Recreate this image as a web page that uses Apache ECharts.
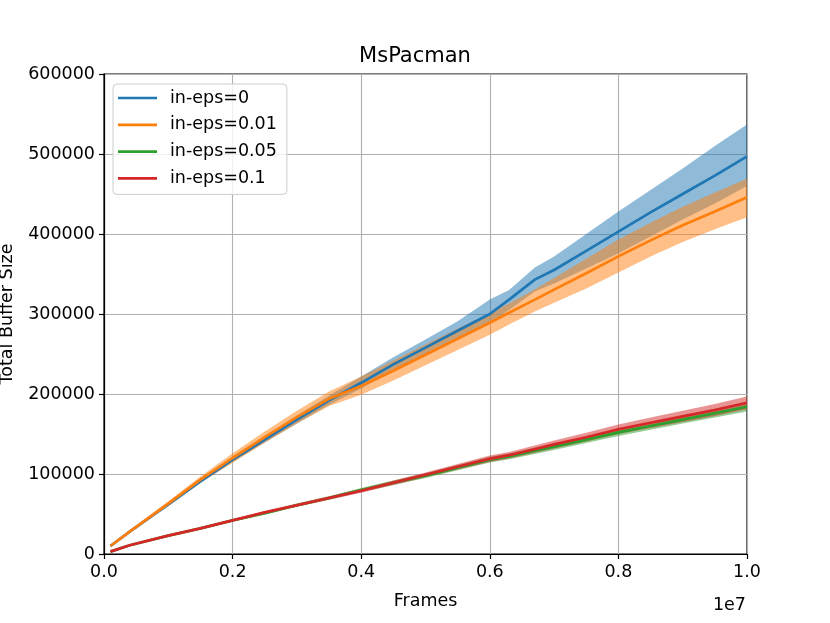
<!DOCTYPE html>
<html><head><meta charset="utf-8">
<script src="https://cdn.jsdelivr.net/npm/echarts@6/dist/echarts.min.js"></script>
<style>html,body{margin:0;padding:0;background:#fff}#c{width:830px;height:623px}</style>
</head><body><div id="c"></div>
<script>
var frames = [1e5,4e5,1e6,1.5e6,2e6,2.5e6,3e6,3.5e6,4e6,4.5e6,5e6,5.5e6,6e6,6.3e6,6.7e6,7e6,7.5e6,8e6,8.5e6,9e6,9.5e6,1e7];
var names = ['in-eps=0','in-eps=0.01','in-eps=0.05','in-eps=0.1'];
var colors = ['#1f77b4','#ff7f0e','#2ca02c','#d62728'];
var eps0Mean = [10000,28000,62000,91000,118000,143000,168000,192000,214000,237000,258000,279000,300000,318000,343000,355000,379000,403000,427000,450000,473000,497000];
var eps0Hi = [11000,29500,64000,93500,121000,147000,173000,198000,222000,246000,268000,291000,318000,330000,358000,372000,400000,428000,455000,482000,510000,537000];
var eps0Lo = [9000,26500,60000,88500,115000,139500,163000,186500,207000,229000,250000,270000,288000,305000,328000,338000,357000,376000,397000,418000,438000,460000];
var eps001Mean = [10000,28000,63000,93000,120000,146000,171000,194000,210000,229000,249000,269000,289000,301500,318000,330500,351000,372000,392000,411000,428000,446000];
var eps001Hi = [11000,30000,66000,97000,126000,153000,179000,203000,222000,242000,262000,282000,301000,313000,331000,345000,369000,393000,414000,434000,452000,469000];
var eps001Lo = [9000,26000,60000,89000,114000,139000,163000,185000,199000,217000,236000,255000,274000,287000,303000,314000,332000,352000,372000,390000,406000,421000];
var eps005Mean = [3000,11000,23000,32000,42000,51000,61000,70000,80000,89000,98000,108000,118000,122000,129000,134000,143000,152000,160000,168000,176000,184000];
var eps005Hi = [3500,11800,24000,33200,43500,52800,63000,72300,82500,91800,101000,111300,121500,125500,133000,138000,147300,156500,164800,173000,181500,190000];
var eps005Lo = [2500,10200,22000,30800,40500,49200,59000,67700,77500,86200,95000,104700,114500,118500,125000,130000,138700,147500,155200,163000,170500,178000];
var eps01Mean = [3000,11000,23000,32000,42000,52000,61000,70000,79000,89000,99000,109000,119000,123500,131000,137000,146000,156000,164000,172000,180000,189000];
var eps01Hi = [3500,11800,24000,33200,43500,53800,63000,72300,81500,91800,102000,112500,123000,127500,135500,142000,151500,162000,170500,179000,187500,197000];
var eps01Lo = [2500,10200,22000,30800,40500,50200,59000,67700,76500,86200,96000,105500,115000,119500,126500,132000,140500,150000,157500,165000,172500,181000];
var yTicks = [0,100000,200000,300000,400000,500000,600000];

var means = [eps0Mean, eps001Mean, eps005Mean, eps01Mean];
var his = [eps0Hi, eps001Hi, eps005Hi, eps01Hi];
var los = [eps0Lo, eps001Lo, eps005Lo, eps01Lo];
var FONT = 'DejaVu Sans';
var series = [];
function zip(xs, ys){ return xs.map(function(x,i){return [x, ys[i]];}); }
function bandSeries(k){
  var hi = his[k], lo = los[k];
  return {type:'custom', name:'band'+k, silent:true, z:2,
    data:[[frames[0], lo[0]]],
    clip:true,
    renderItem:function(params, api){
      var pts = [];
      for (var i=0;i<frames.length;i++) pts.push(api.coord([frames[i], hi[i]]));
      for (var j=frames.length-1;j>=0;j--) pts.push(api.coord([frames[j], lo[j]]));
      return {type:'polygon', shape:{points:pts}, style:{fill:colors[k], opacity:0.5}};
    }};
}
for (var k=0;k<4;k++){
  series.push(bandSeries(k));
  series.push({type:'line', name:names[k], data:zip(frames, means[k]), showSymbol:false, symbol:'none',
    lineStyle:{color:colors[k], width:2.7}, itemStyle:{color:colors[k]}, z:3});
}
var chart = echarts.init(document.getElementById('c'), null, {renderer:'canvas'});
chart.setOption({
  animation:false,
  backgroundColor:'#fff',
  title:{text:'MsPacman', left:'center', top:46, textStyle:{fontFamily:FONT, fontSize:21, fontWeight:'normal', color:'#000'}, padding:0},
  grid:{left:104, right:83, top:74, bottom:69, show:true, borderColor:'#000', borderWidth:1.2, backgroundColor:'transparent', outerBoundsMode:'none', containLabel:false},
  legend:{data:names, orient:'vertical', left:113, top:84, icon:'rect', itemWidth:39, itemHeight:2.7, itemGap:6.8,
    padding:[4,10,6,5], backgroundColor:'rgba(255,255,255,0.8)', borderColor:'#cccccc', borderWidth:1, borderRadius:4,
    textStyle:{fontFamily:FONT, fontSize:17.5, color:'#000', lineHeight:20, padding:[0,0,0,8]}},
  xAxis:{type:'value', min:0, max:1e7, interval:2e6, name:'Frames', nameLocation:'middle', nameGap:38,
    nameTextStyle:{fontFamily:FONT, fontSize:17.5, color:'#000'},
    axisLine:{show:true, onZero:false, lineStyle:{color:'#000', width:1.2}},
    axisTick:{show:true, length:5, lineStyle:{color:'#000', width:1.2}},
    axisLabel:{fontFamily:FONT, fontSize:17.5, color:'#000', margin:9, formatter:function(v){return (v/1e7).toFixed(1);}},
    splitLine:{show:true, lineStyle:{color:'#b0b0b0', width:1.1}}},
  yAxis:{type:'value', min:0, max:600000, interval:100000, name:'Total Buffer Size', nameLocation:'middle', nameGap:88,
    nameTextStyle:{fontFamily:FONT, fontSize:17.5, color:'#000'},
    axisLine:{show:true, onZero:false, lineStyle:{color:'#000', width:1.2}},
    axisTick:{show:true, length:5, lineStyle:{color:'#000', width:1.2}},
    axisLabel:{fontFamily:FONT, fontSize:17.5, color:'#000', margin:9, formatter:function(v){return yTicks.indexOf(v)>=0?String(v):'';}},
    splitLine:{show:true, lineStyle:{color:'#b0b0b0', width:1.1}}},
  graphic:[{type:'text', right:84, top:596, style:{text:'1e7', fontFamily:FONT, fontSize:17.5, fill:'#000'}}],
  series:series
});
</script></body></html>
